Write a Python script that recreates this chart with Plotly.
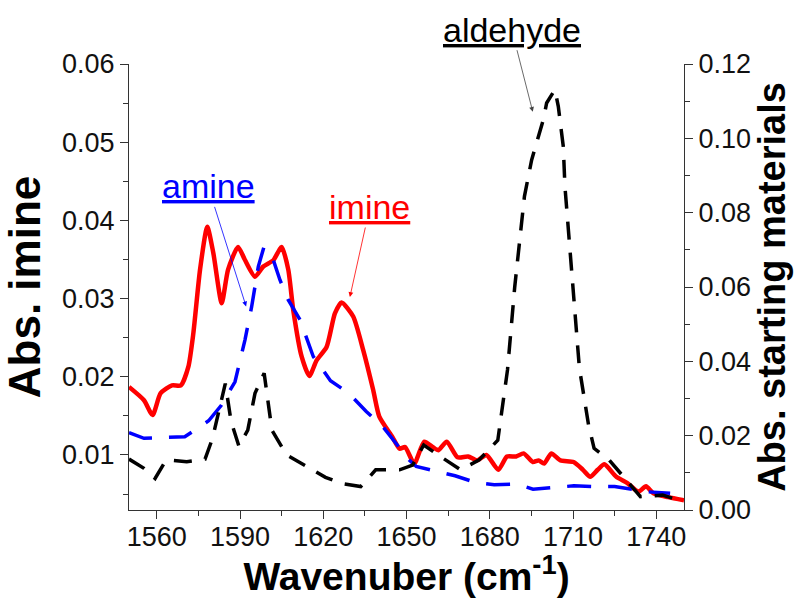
import plotly.graph_objects as go

# ---------------- data ----------------
imine_x = [1550, 1555.4, 1558.5, 1561.4, 1565.5, 1568.7, 1571.4, 1573.2, 1575.6, 1578.2,
           1580.4, 1583.4, 1585.7, 1589.3, 1591.7, 1595.4, 1598.4, 1602, 1605, 1607.4,
           1609.2, 1612.2, 1615, 1617.6, 1621.2, 1624.2, 1626.6, 1630.8, 1634.4, 1638,
           1640.2, 1644.9, 1647.5, 1649.5, 1652.8, 1656.4, 1659.5, 1661.5, 1664.5, 1668.4,
           1672.2, 1675.5, 1678.8, 1683.1, 1686.2, 1689.5, 1692.2, 1695.5, 1697.6, 1699.6,
           1702.2, 1705.5, 1710.2, 1713.6, 1716.2, 1718.9, 1721.3, 1725.6, 1729.6, 1733.6,
           1736.3, 1739, 1744.3, 1750]
imine_y = [0.0187, 0.0170, 0.0151, 0.0179, 0.0189, 0.0189, 0.0213, 0.0256, 0.0337, 0.0392,
           0.0358, 0.0294, 0.0337, 0.0366, 0.0350, 0.0328, 0.0341, 0.0349, 0.0366, 0.0337,
           0.0285, 0.0226, 0.0201, 0.0221, 0.0238, 0.0281, 0.0295, 0.0277, 0.0234, 0.0183,
           0.0149, 0.0123, 0.0108, 0.0110, 0.0089, 0.0117, 0.0110, 0.0106, 0.0117, 0.0097,
           0.0098, 0.0093, 0.0100, 0.0081, 0.0098, 0.0098, 0.0102, 0.0091, 0.0093, 0.0089,
           0.0102, 0.0093, 0.0091, 0.0081, 0.0072, 0.0081, 0.0088, 0.0072, 0.0064, 0.0053,
           0.0060, 0.0051, 0.0046, 0.0042]

amine_x = [1550, 1555.4, 1570.1, 1578.7, 1583.2, 1588.2, 1591.8, 1594.2, 1596.6, 1598.6,
           1602, 1604.4, 1607.4, 1611.6, 1616.4, 1622.6, 1629.2, 1635.5, 1641.5, 1650.9,
           1653.5, 1660.9, 1667.5, 1674.9, 1681.6, 1689.5, 1695.6, 1703.6, 1710.3, 1718.2,
           1725, 1736.8, 1745]
amine_y = [0.0208, 0.0193, 0.0197, 0.0240, 0.0281, 0.0345, 0.0458, 0.0547, 0.0655, 0.0707,
           0.0673, 0.0619, 0.0565, 0.0512, 0.0413, 0.0348, 0.0314, 0.0265, 0.0224, 0.0135,
           0.0117, 0.0103, 0.0092, 0.0074, 0.0068, 0.0070, 0.0056, 0.0061, 0.0065, 0.0063,
           0.0063, 0.0049, 0.0045]

aldehyde_x = [1550, 1555.4, 1559.4, 1563.4, 1570.8, 1577.4, 1580.1, 1582.1, 1584.7, 1586.8,
              1589.6, 1592.8, 1595.4, 1598.7, 1601.5, 1606.8, 1613.5, 1620.8, 1627.5, 1633.5,
              1638.9, 1647.5, 1652.2, 1656.2, 1662.2, 1669.5, 1676.2, 1682.9, 1684.9, 1686.4,
              1689, 1692.5, 1695.1, 1696.9, 1699.3, 1700.5, 1703.5, 1704.7, 1705.9, 1706.5,
              1707.1, 1709.7, 1712.3, 1715.6, 1717.6, 1723, 1729.6, 1734.3, 1742.3, 1750]
aldehyde_y = [0.0137, 0.0112, 0.0085, 0.0135, 0.0130, 0.0137, 0.0193, 0.0260, 0.0340, 0.0238,
              0.0172, 0.0215, 0.0314, 0.0368, 0.0215, 0.0148, 0.0118, 0.0088, 0.0070, 0.0063,
              0.0108, 0.0108, 0.0121, 0.0175, 0.0144, 0.0108, 0.0135, 0.0188, 0.0296, 0.0377,
              0.0600, 0.0844, 0.0942, 0.0987, 0.1050, 0.1095, 0.1131, 0.1086, 0.1023, 0.0978,
              0.0870, 0.0620, 0.0382, 0.0229, 0.0166, 0.0135, 0.0076, 0.0036, 0.0040, 0.0022]

# label texts and the data points their arrows point to
label_text = ["amine", "imine", "aldehyde"]
label_tip_x = [1592.2, 1629.6, 1695.5]
label_tip_y = [0.0290, 0.0302, 0.0539]   # on left (imine) axis scale

FONT = "Liberation Sans, Arial, sans-serif"
AX = "#333333"

fig = go.Figure()
fig.add_trace(go.Scatter(x=amine_x, y=amine_y, yaxis="y2", mode="lines",
                         line=dict(color="#0000ff", width=3.5, dash="24px,17px")))
fig.add_trace(go.Scatter(x=aldehyde_x, y=aldehyde_y, yaxis="y2", mode="lines",
                         line=dict(color="black", width=3.5, dash="18px,13px")))
fig.add_trace(go.Scatter(x=imine_x, y=imine_y, yaxis="y", mode="lines",
                         line=dict(color="#ff0000", width=4.5, shape="spline", smoothing=0.6)))

axis_common = dict(ticks="outside", ticklen=8, tickwidth=1.2, tickcolor=AX,
                   showline=True, linecolor=AX, linewidth=1.2, showgrid=False,
                   zeroline=False, automargin=False,
                   tickfont=dict(size=27, family=FONT, color="#111111"))

fig.update_layout(
    width=795, height=598,
    margin=dict(l=129, r=111, t=64, b=88),
    paper_bgcolor="white", plot_bgcolor="white", showlegend=False,
    font=dict(family=FONT, color="black"),
    xaxis=dict(range=[1550, 1750], tick0=1560, dtick=30, ticklabelstandoff=-6,
               minor=dict(dtick=15, tick0=1560, ticks="outside", ticklen=5, tickcolor=AX),
               title=dict(text="<b>Wavenuber (cm<sup>-1</sup>)</b>", font=dict(size=39), standoff=12),
               **axis_common),
    yaxis=dict(range=[0.00296, 0.06], tick0=0, dtick=0.01, tickformat=".2f",
               minor=dict(dtick=0.005, tick0=0, ticks="outside", ticklen=5, tickcolor=AX),
               title=dict(text="<b>Abs. imine</b>", font=dict(size=44), standoff=8),
               **axis_common),
    yaxis2=dict(range=[0, 0.12], tick0=0, dtick=0.02, tickformat=".2f", overlaying="y", side="right",
                minor=dict(dtick=0.01, tick0=0, ticks="outside", ticklen=5, tickcolor=AX),
                title=dict(text="<b>Abs. starting materials</b>", font=dict(size=38), standoff=6),
                **axis_common),
)

# styling of the labelled arrows: colour, text offset from tip (px)
styles = [("#0000ff", "#0000ff", -38, -120),
          ("#ff0000", "#ff0000", 20, -90),
          ("black", "#444444", -21, -82)]
for txt, tx, ty, (tcol, acol, ax, ay) in zip(label_text, label_tip_x, label_tip_y, styles):
    fig.add_annotation(x=tx, y=ty, xref="x", yref="y", ax=ax, ay=ay, text=txt,
                       showarrow=True, arrowhead=2, arrowsize=1.2, arrowwidth=0.8,
                       arrowcolor=acol,
                       font=dict(size=34, color=tcol, family=FONT, lineposition="under"))

fig.write_html("out.html")
